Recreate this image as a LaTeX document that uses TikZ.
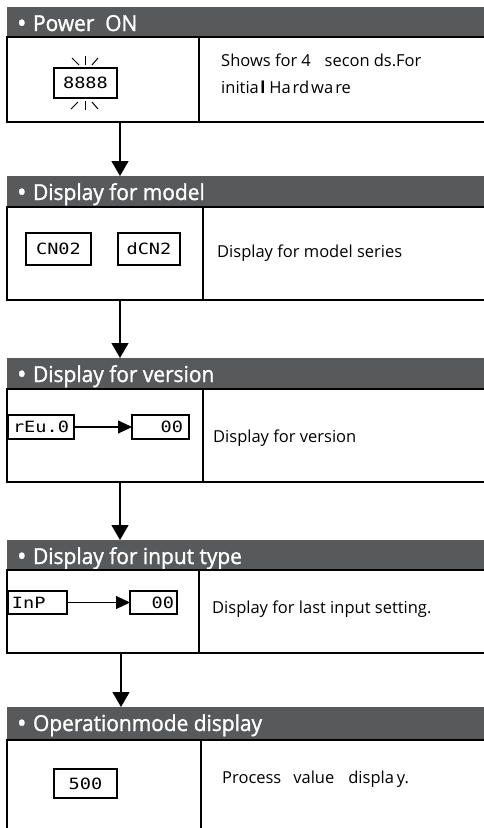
\documentclass[tikz,border=0pt]{standalone}
\usepackage{fontspec}
\setmainfont{Open Sans}
\newfontfamily\hdrfont[FakeBold=1.3,FakeStretch=0.95]{Open Sans}
\newfontfamily\lcdfont[FakeStretch=1.2]{DejaVu Sans Mono}
\usetikzlibrary{arrows.meta}
\definecolor{hdrgray}{HTML}{58595B}
\newcommand{\hbul}{{\fontsize{26}{26}\selectfont\raisebox{-1.2pt}{\textbullet}}\hspace{0.3em}}
\begin{document}
\begin{tikzpicture}[x=1pt,y=-1pt,
  hdr/.style={fill=hdrgray, draw=none, anchor=north west, inner sep=0pt, outer sep=0pt, minimum width=490pt},
  htext/.style={text=white, font=\hdrfont\fontsize{22}{24}\selectfont, anchor=base west, inner sep=0pt},
  frame/.style={draw=black, line width=1.3pt, anchor=north west, inner sep=0pt, outer sep=0pt, minimum width=490pt},
  divider/.style={draw=black, line width=1.3pt},
  body/.style={font=\fontsize{16.5}{19}\selectfont, anchor=base west, inner sep=0pt},
  lcd/.style={draw=black, line width=1.1pt, inner sep=0pt, outer sep=0pt, anchor=north west, font=\lcdfont\fontsize{15.5}{16}\selectfont},
  flow/.style={line width=1.3pt, -{Triangle[length=15pt,width=17pt]}},
  inarrow/.style={line width=1.1pt, -{Triangle[length=14pt,width=13pt]}},
  ray/.style={line width=1pt}
]
\useasboundingbox (0,0) rectangle (483,828);

% ---------- section 1 ----------
\node[hdr, minimum height=30pt] (h1) at (7,7) {};
\node[htext] (ht1) at (17,31) {\hbul Power\ \ ON};
\node[frame, minimum height=85pt] (f1) at (7,37) {};
\draw[divider] (199,37) -- (199,122);
\node[lcd, minimum width=63pt, minimum height=30pt] (d1) at (54,68) {8888};
\draw[ray] (72,58) -- (79,65);
\draw[ray] (85.5,56) -- (85.5,65);
\draw[ray] (98,58) -- (92,65);
\draw[ray] (78,102) -- (71,109);
\draw[ray] (85.5,101) -- (85.5,110);
\draw[ray] (92,102) -- (98,109);
\node[body] (x1a) at (221,66) {Shows for\hspace{4pt}4\hspace{14pt}secon\hspace{4pt}ds.For};
\node[body] (x1b) at (221,93) {initia\hspace{1.5pt}\textbf{l}\hspace{4pt}Ha\hspace{2pt}rd\hspace{2pt}wa\hspace{2pt}re};

% ---------- section 2 ----------
\node[hdr, minimum height=31pt] (h2) at (7,176) {};
\node[htext] (ht2) at (17,200) {\hbul Display for model};
\node[frame, minimum height=93pt] (f2) at (7,207) {};
\draw[divider] (203,207) -- (203,300);
\node[lcd, minimum width=65pt, minimum height=32pt] (d2a) at (26,233) {CN02};
\node[lcd, minimum width=62pt, minimum height=32pt] (d2b) at (118,233) {dCN2};
\node[body] (x2) at (217,257) {Display for model series};

% ---------- section 3 ----------
\node[hdr, minimum height=31pt] (h3) at (7,358) {};
\node[htext] (ht3) at (17,382) {\hbul Display for version};
\node[frame, minimum height=93pt] (f3) at (7,389) {};
\draw[divider] (203,389) -- (203,482);
\node[lcd, minimum width=66pt, minimum height=24pt] (d3a) at (8,415) {rEu.0};
\node[lcd, minimum height=24pt, text width=45pt, inner xsep=6pt, align=right] (d3b) at (132,415) {00};
\draw[inarrow] (d3a.east) -- (d3b.west);
\node[body] (x3) at (213,442) {Display for version};

% ---------- section 4 ----------
\node[hdr, minimum height=30pt] (h4) at (7,540) {};
\node[htext] (ht4) at (17,564) {\hbul Display for input type};
\node[frame, minimum height=83pt] (f4) at (7,570) {};
\draw[divider] (199,570) -- (199,653);
\node[lcd, minimum height=23pt, text width=51pt, inner xsep=4pt, align=left] (d4a) at (8,591) {InP};
\node[lcd, minimum height=23pt, text width=41pt, inner xsep=3pt, align=right] (d4b) at (130,591) {00};
\draw[inarrow] (d4a.east) -- (d4b.west);
\node[body] (x4) at (212,613) {Display for last input setting.};

% ---------- section 5 ----------
\node[hdr, minimum height=33pt] (h5) at (7,707) {};
\node[htext] (ht5) at (17,731) {\hbul Operationmode display};
\node[frame, minimum height=100pt] (f5) at (7,740) {};
\draw[divider] (201,740) -- (201,840);
\node[lcd, minimum width=63pt, minimum height=29pt] (d5) at (54,769) {500};
\node[body] (x5) at (222,783) {Process\hspace{12pt}value\hspace{14pt}displa\hspace{3pt}y.};

% ---------- flow arrows ----------
\coordinate (c1) at (120,0);
\coordinate (c4) at (121,0);
\draw[flow] (f1.south -| c1) -- (h2.north -| c1);
\draw[flow] (f2.south -| c1) -- (h3.north -| c1);
\draw[flow] (f3.south -| c1) -- (h4.north -| c1);
\draw[flow] (f4.south -| c4) -- (h5.north -| c4);
\end{tikzpicture}
\end{document}
